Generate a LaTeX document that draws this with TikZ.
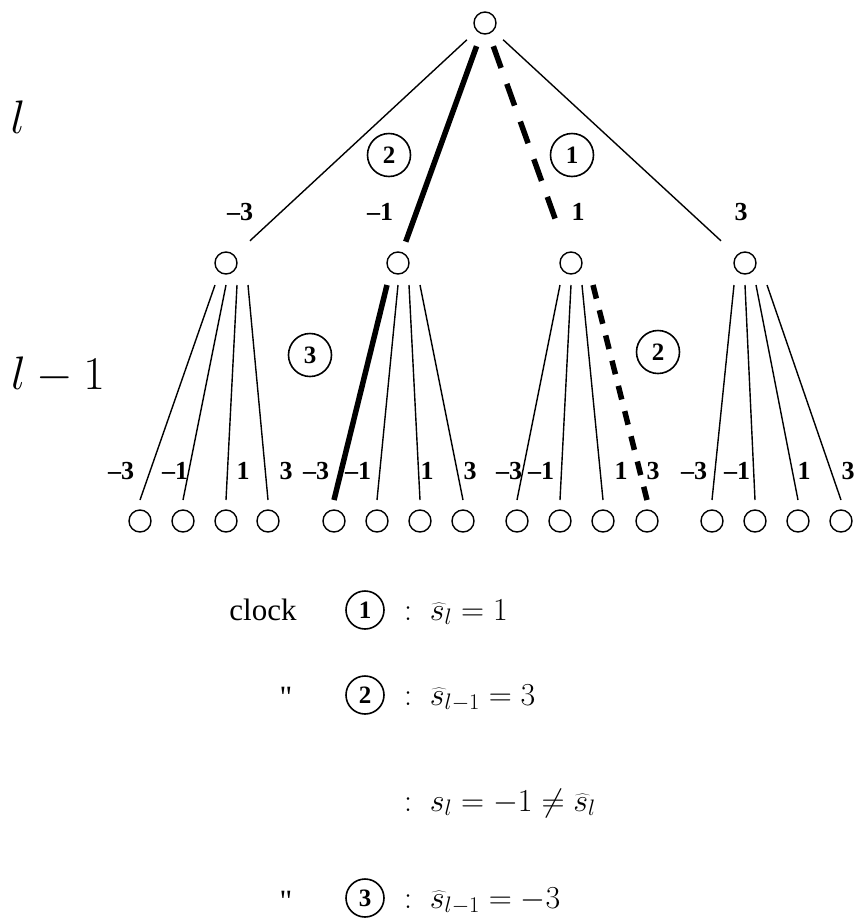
\RequirePackage{fix-cm}
\documentclass[tikz,border=0pt]{standalone}
\usepackage[no-math]{fontspec}
\setmainfont{Liberation Serif}
\newfontfamily\plainserif{Liberation Serif}
\usetikzlibrary{calc}
\tikzset{
  vtx/.style     ={circle, draw, line width=1.4pt, minimum size=22pt, inner sep=0pt},
  tedge/.style   ={line width=1.4pt},
  thedge/.style  ={line width=5.5pt},
  daedge/.style  ={line width=5.5pt, dash pattern=on 23pt off 17pt},
  dbedge/.style  ={line width=5.5pt, dash pattern=on 14pt off 12pt},
  brlabel/.style ={font=\fontsize{26}{26}\selectfont\bfseries, inner sep=0pt},
  ordmark/.style ={circle, draw, line width=1.6pt, minimum size=43pt, inner sep=0pt,
                   font=\fontsize{25}{25}\selectfont\bfseries},
  legmark/.style ={ordmark, minimum size=38pt},
  legtext/.style ={font=\fontsize{31}{31}\selectfont, inner sep=0pt},
  legmath/.style ={font=\fontsize{32}{32}\selectfont, inner sep=0pt, anchor=base west},
  lvl/.style     ={font=\fontsize{47}{47}\selectfont, inner sep=0pt},
}
\begin{document}
\begin{tikzpicture}[x=1pt, y=-1pt]
  \useasboundingbox (0,0) rectangle (856,919);

  % ---- nodes of the tree ----
  \node[vtx] (root) at (485,23) {};
  \foreach \n/\x in {a/226, b/398, c/571, d/745}
    \node[vtx] (\n) at (\x,263) {};
  \foreach \x [count=\i] in {140,183,226,268, 334,377,420,463,
                             517,560,603,647, 712,755,798,841}
    \node[vtx] (lf\i) at (\x,521) {};

  % ---- level l edges ----
  \draw[tedge,  shorten <=13pt, shorten >=21pt] (root) -- (a);
  \draw[thedge, shorten <=13pt, shorten >=11pt] (root) -- (b);
  \draw[daedge, shorten <=13pt, shorten >=23pt] (root) -- (c);
  \draw[tedge,  shorten <=13pt, shorten >=21pt] (root) -- (d);

  % ---- level l-1 edges ----
  \foreach \p/\q/\o/\s in {a/1/-11/tedge, a/2/0/tedge, a/3/11/tedge, a/4/22/tedge,
                           b/5/-11/thedge, b/6/0/tedge, b/7/11/tedge, b/8/22/tedge,
                           c/9/-11/tedge, c/10/0/tedge, c/11/11/tedge, c/12/22/dbedge,
                           d/13/-11/tedge, d/14/0/tedge, d/15/11/tedge, d/16/22/tedge}
    \draw[\s] ($(\p)+(\o,22)$) -- ($(lf\q)+(0,-21)$);

  % ---- branch values ----
  \node[brlabel] (va) at (240,212) {--3};
  \node[brlabel] (vb) at (380,212) {--1};
  \node[brlabel] (vc) at (578,212) {1};
  \node[brlabel] (vd) at (741,212) {3};
  \foreach \x/\t [count=\i] in {121/--3,175/--1,243/1,286/3, 316/--3,358/--1,427/1,470/3,
                                509/--3,541/--1,621/1,653/3, 694/--3,737/--1,804/1,848/3}
    \node[brlabel] (vl\i) at (\x,471) {\t};

  % ---- order of the decisions ----
  \node[ordmark] (one)   at (572,155) {1};
  \node[ordmark] (two)   at (389,155) {2};
  \node[ordmark] (twob)  at (658,352) {2};
  \node[ordmark] (three) at (310,355) {3};

  % ---- levels ----
  \node[lvl] (lev)  at (18,117) {$l$};
  \node[lvl] (levb) at (58,375) {$l-1$};

  % ---- legend ----
  \node[legtext] (clk) at (263,610) {clock};
  \node[legmark] (lg1) at (365,610) {1};
  \node[legmath] (eq1) at (404,620) {$:\;\widehat{s}_l=1$};

  \node[legtext, anchor=north] (dit1) at (286,687) {\plainserif "};
  \node[legmark] (lg2) at (365,695) {2};
  \node[legmath] (eq2) at (404,705) {$:\;\widehat{s}_{l-1}=3$};

  \node[legmath] (eq3) at (404,811) {$:\;s_l=-1\neq\widehat{s}_l$};

  \node[legtext, anchor=north] (dit2) at (286,891) {\plainserif "};
  \node[legmark] (lg3) at (365,898) {3};
  \node[legmath] (eq4) at (404,908) {$:\;\widehat{s}_{l-1}=-3$};
\end{tikzpicture}
\end{document}
